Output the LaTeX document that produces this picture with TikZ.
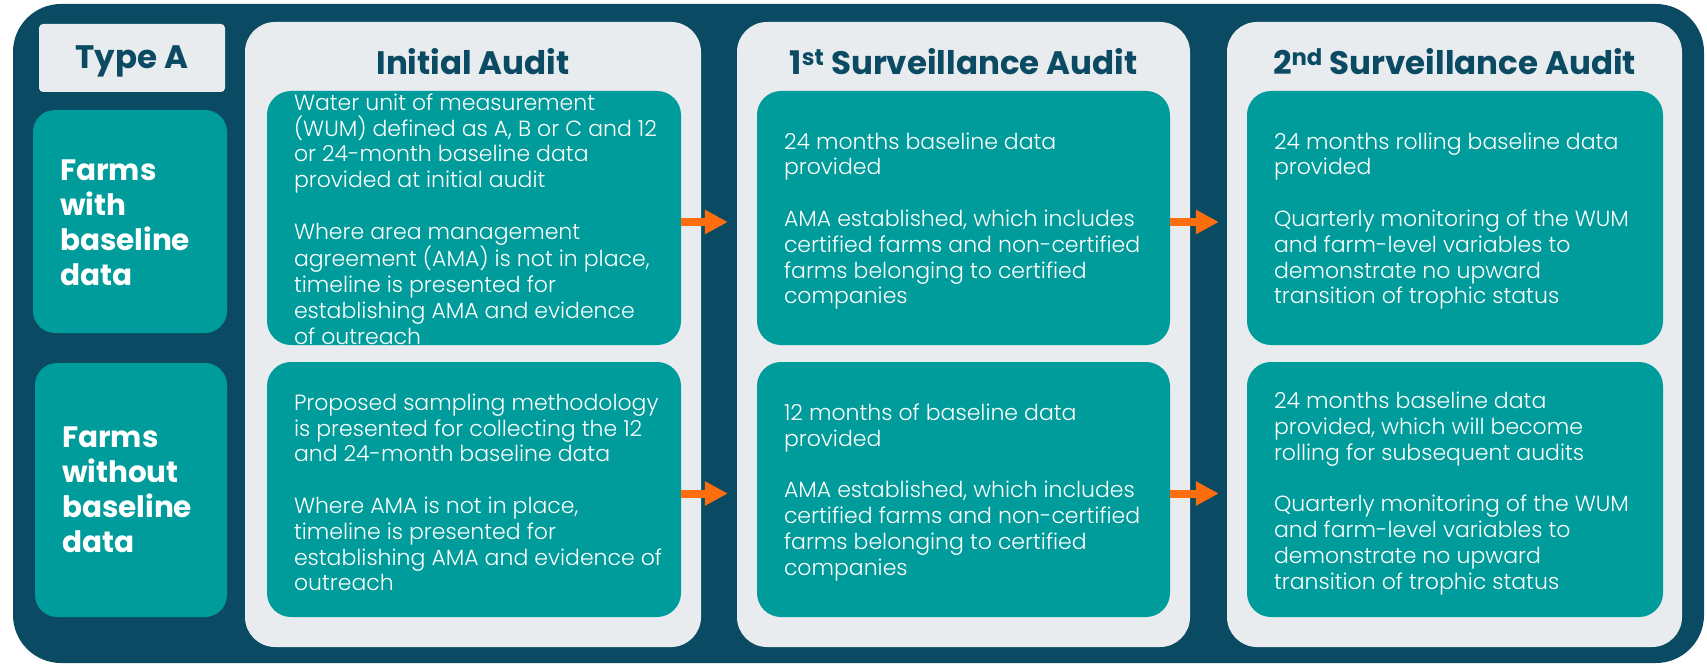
\documentclass[tikz,border=0pt]{standalone}
\usepackage{fontspec}
\setmainfont{Poppins}
\newfontfamily\lightfont{Poppins Light}
\usetikzlibrary{arrows.meta}

\definecolor{navy}{HTML}{0B4A63}
\definecolor{tealbg}{HTML}{009C9B}
\definecolor{paleg}{HTML}{E8ECEE}
\definecolor{orangeA}{HTML}{FF6E0E}

\tikzset{
  panel/.style={fill=paleg, rounded corners=30pt, inner sep=0pt},
  tealbox/.style={fill=tealbg, rounded corners=24pt, inner sep=0pt},
  rowlabel/.style={fill=tealbg, rounded corners=22pt, inner sep=0pt},
  typebox/.style={fill=paleg, rounded corners=4pt, inner sep=0pt},
  header/.style={text=navy, anchor=base, font=\fontsize{32.5}{38}\selectfont\bfseries, inner sep=0pt},
  rowtext/.style={text=white, align=left, anchor=west, inner sep=0pt,
    font=\fontsize{29.5}{35}\selectfont\bfseries},
  bodytext/.style={text=white, align=left, anchor=west, inner sep=0pt,
    font=\lightfont\fontsize{22}{25.8}\selectfont},
  flow/.style={orangeA, line width=8pt, -{Triangle[length=23pt,width=23pt]}},
}

\begin{document}
\begin{tikzpicture}[x=1pt,y=-1pt]
\useasboundingbox (0,0) rectangle (1707,666);
\fill[white] (0,0) rectangle (1707,666);

% outer frame
\fill[navy, rounded corners=48pt] (13,4) rectangle (1704,663);

% Type A tag and row labels
\node[typebox, minimum width=186pt, minimum height=68pt] (typeA) at (132,58) {};
\node[header] (typeAt) at (132,69) {Type A};

\node[rowlabel, minimum width=194pt, minimum height=223pt] (rowA) at (130,221.5) {};
\node[rowtext] (rowAt) at ([xshift=27pt,yshift=-1pt]rowA.west) {Farms\\with\\baseline\\data};

\node[rowlabel, minimum width=192pt, minimum height=254pt] (rowB) at (131,490) {};
\node[rowtext] (rowBt) at ([xshift=27pt]rowB.west) {Farms\\without\\baseline\\data};

% audit columns
\node[panel, minimum width=456pt, minimum height=625pt] (colA) at (473,334.5) {};
\node[panel, minimum width=453pt, minimum height=625pt] (colB) at (963.5,334.5) {};
\node[panel, minimum width=455pt, minimum height=625pt] (colC) at (1454.5,334.5) {};

\node[header] (hA) at (473,75) {Initial Audit};
\node[header] (hB) at (963.5,75) {1\textsuperscript{st} Surveillance Audit};
\node[header] (hC) at (1454.5,75) {2\textsuperscript{nd} Surveillance Audit};

% content boxes
\node[tealbox, minimum width=414pt, minimum height=254pt] (a1) at (474,218) {};
\node[tealbox, minimum width=414pt, minimum height=255pt] (a2) at (474,489.5) {};
\node[tealbox, minimum width=413pt, minimum height=254pt] (b1) at (963.5,218) {};
\node[tealbox, minimum width=413pt, minimum height=255pt] (b2) at (963.5,489.5) {};
\node[tealbox, minimum width=416pt, minimum height=254pt] (c1) at (1455,218) {};
\node[tealbox, minimum width=416pt, minimum height=255pt] (c2) at (1455,489.5) {};

\node[bodytext] (a1t) at ([xshift=27pt,yshift=-1pt]a1.west) {Water unit of measurement\\(WUM) defined as A, B or C and 12\\or 24-month baseline data\\provided at initial audit\\[25.8pt]Where area management\\agreement (AMA) is not in place,\\timeline is presented for\\establishing AMA and evidence\\of outreach};
\node[bodytext] (a2t) at ([xshift=27pt,yshift=-3pt]a2.west) {Proposed sampling methodology\\is presented for collecting the 12\\and 24-month baseline data\\[25.8pt]Where AMA is not in place,\\timeline is presented for\\establishing AMA and evidence of\\outreach};
\node[bodytext] (b1t) at ([xshift=27pt,yshift=-3pt]b1.west) {24 months baseline data\\provided\\[25.8pt]AMA established, which includes\\certified farms and non-certified\\farms belonging to certified\\companies};
\node[bodytext] (b2t) at ([xshift=27pt,yshift=-3pt]b2.west) {12 months of baseline data\\provided\\[25.8pt]AMA established, which includes\\certified farms and non-certified\\farms belonging to certified\\companies};
\node[bodytext] (c1t) at ([xshift=27pt,yshift=-3pt]c1.west) {24 months rolling baseline data\\provided\\[25.8pt]Quarterly monitoring of the WUM\\and farm-level variables to\\demonstrate no upward\\transition of trophic status};
\node[bodytext] (c2t) at ([xshift=27pt,yshift=-4pt]c2.west) {24 months baseline data\\provided, which will become\\rolling for subsequent audits\\[25.8pt]Quarterly monitoring of the WUM\\and farm-level variables to\\demonstrate no upward\\transition of trophic status};

% progression arrows
\draw[flow] ([yshift=-4pt]a1.east) -- ([xshift=-29pt,yshift=-4pt]b1.west);
\draw[flow] ([yshift=-4pt]a2.east) -- ([xshift=-29pt,yshift=-4pt]b2.west);
\draw[flow] ([yshift=-4pt]b1.east) -- ([xshift=-28pt,yshift=-4pt]c1.west);
\draw[flow] ([yshift=-4pt]b2.east) -- ([xshift=-28pt,yshift=-4pt]c2.west);
\end{tikzpicture}
\end{document}
